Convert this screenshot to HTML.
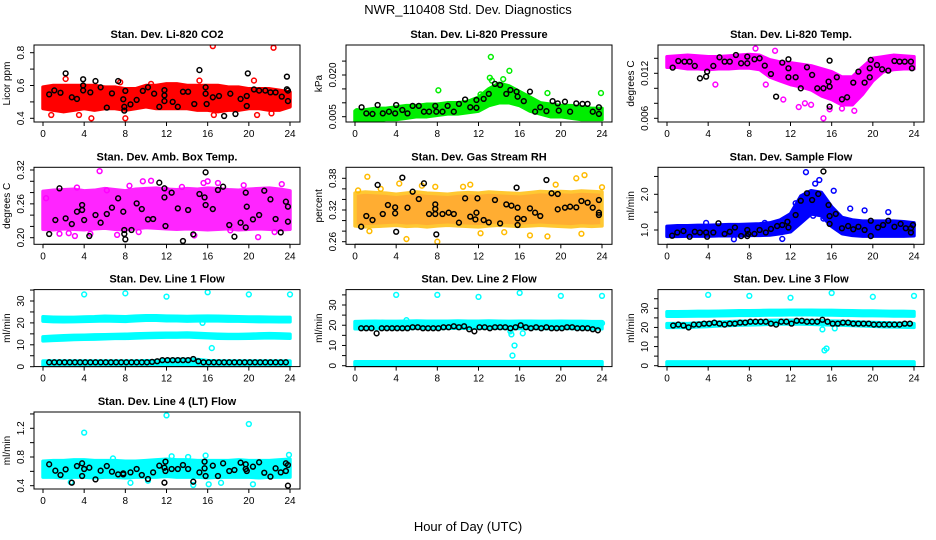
<!DOCTYPE html>
<html><head><meta charset="utf-8"><style>
body{margin:0;background:#fff}
svg{display:block}
text{font-family:"Liberation Sans",sans-serif}
</style></head><body>
<svg id="chart" width="936" height="540" viewBox="0 0 936 540">
<rect width="936" height="540" fill="#fff"/>
<text x="468" y="14" text-anchor="middle" font-size="13">NWR_110408  Std. Dev. Diagnostics</text>
<text x="468" y="531" text-anchor="middle" font-size="13">Hour of Day (UTC)</text>
</svg>
<script>
// ---------- shared x axis ----------
const xTicks = [0,4,8,12,16,20,24];

// ---------- CO2 ----------
const co2_lo=[0.46,0.45,0.44,0.45,0.46,0.45,0.46,0.46,0.45,0.46,0.47,0.46,0.46,0.46,0.46,0.45,0.45,0.44,0.45,0.45,0.46,0.46,0.45,0.45,0.47];
const co2_hi=[0.59,0.6,0.6,0.6,0.6,0.6,0.59,0.59,0.58,0.58,0.6,0.6,0.61,0.61,0.6,0.6,0.6,0.6,0.59,0.59,0.58,0.58,0.58,0.57,0.56];
const co2_ot=[16.5,22.4,0.8,3.5,4.7,8,20.8,2.2,15.2,16.6,22.2,7.5,10.5,20.5];
const co2_ov=[0.84,0.83,0.42,0.42,0.40,0.40,0.42,0.64,0.63,0.42,0.43,0.62,0.61,0.63];
const co2_bt=[0.6,1.1,1.7,2.2,2.8,3.3,3.9,3.9,3.9,4.6,5.1,5.6,6.2,6.7,7.3,7.8,7.9,7.9,8,8.5,9.1,9.7,10.2,10.8,11.3,11.8,11.8,11.8,12.6,13.1,13.6,14.1,14.7,15.2,15.8,15.8,15.9,16.5,17.1,17.6,18.2,18.7,19.2,19.8,19.8,19.9,20.5,21,21.6,22.1,22.6,23.2,23.7,23.7,23.8,23.8];
const co2_bv=[0.546,0.57,0.556,0.674,0.528,0.518,0.638,0.6,0.57,0.558,0.627,0.589,0.465,0.552,0.627,0.516,0.47,0.447,0.567,0.485,0.512,0.567,0.589,0.55,0.47,0.572,0.54,0.505,0.5,0.47,0.562,0.562,0.487,0.694,0.589,0.55,0.487,0.528,0.536,0.414,0.55,0.426,0.518,0.536,0.475,0.674,0.576,0.569,0.569,0.558,0.558,0.532,0.654,0.577,0.569,0.505];

// ---------- Pressure ----------
const prs_lo=[0.003,0.003,0.0035,0.004,0.004,0.0045,0.005,0.005,0.0055,0.006,0.006,0.0065,0.007,0.009,0.010,0.010,0.009,0.007,0.006,0.005,0.005,0.0045,0.004,0.004,0.004];
const prs_hi=[0.007,0.0075,0.008,0.008,0.0085,0.009,0.009,0.0095,0.0095,0.010,0.010,0.0105,0.012,0.015,0.017,0.016,0.014,0.012,0.010,0.0095,0.009,0.009,0.0085,0.008,0.008];
const prs_ot=[13.2,15.0,13.1,14.4,8.1,23.9,18.7,13.3,12.2,0.2];
const prs_ov=[0.0265,0.0215,0.019,0.0185,0.0145,0.0135,0.0135,0.018,0.013,0.007];
const prs_bt=[0.64,1.1,1.7,2.2,2.7,3.3,3.9,4,4.6,5.1,5.6,6.2,6.7,7.2,7.8,7.9,8.5,9,9.6,10.1,10.7,11.2,11.8,11.8,12.5,13,13.6,14.1,14.7,15.1,15.7,15.8,16.4,17,17.5,18,18.6,19.2,19.7,19.8,20.4,20.9,21.5,22.1,22.6,23.1,23.7,23.7];
const prs_bv=[0.0084,0.0062,0.006,0.0092,0.0062,0.0068,0.0062,0.0092,0.0074,0.0062,0.0089,0.0089,0.0068,0.0068,0.0089,0.0068,0.0068,0.0089,0.0068,0.0096,0.0112,0.0084,0.011,0.0082,0.0114,0.0132,0.0168,0.0164,0.0132,0.0146,0.014,0.0122,0.0106,0.014,0.0068,0.0084,0.007,0.0106,0.0098,0.0072,0.0104,0.0068,0.0098,0.0096,0.0096,0.0068,0.006,0.0084];

// ---------- Li-820 Temp ----------
const tmp_lo=[0.0128,0.0128,0.0126,0.0126,0.0125,0.0126,0.0126,0.0127,0.0127,0.0125,0.0115,0.011,0.0105,0.0102,0.0098,0.0090,0.0085,0.0078,0.0078,0.0092,0.011,0.0122,0.0125,0.0126,0.0126];
const tmp_hi=[0.0142,0.0143,0.0144,0.0143,0.0142,0.0142,0.0143,0.0144,0.0145,0.0144,0.0138,0.0135,0.0134,0.0132,0.0130,0.0126,0.0122,0.0115,0.0115,0.0128,0.0140,0.0142,0.0144,0.0143,0.0142];
const tmp_ot=[15.2,8.6,10.5,4.7,12.8,14,17,18.2,11.3,15.8,9.6,13.4];
const tmp_ov=[0.006,0.0153,0.0150,0.0105,0.0075,0.0078,0.0073,0.007,0.0085,0.0072,0.0105,0.0080];
const tmp_bt=[0.55,1.1,1.7,2.2,2.7,3.2,3.8,3.9,4.5,5.1,5.6,6.1,6.7,7.2,7.8,7.8,8.5,9,9.5,10.1,10.6,11.2,11.8,11.8,11.8,12.5,13,13.6,14.1,14.6,15.2,15.7,15.8,15.8,15.8,16.5,17,17.5,18.1,18.6,19.2,19.7,19.7,19.8,20.4,20.9,21.5,22.1,22.6,23.1,23.7,23.8];
const tmp_bv=[0.01276,0.01364,0.01356,0.01356,0.01298,0.01133,0.01156,0.01222,0.01298,0.01413,0.01356,0.01356,0.01444,0.01333,0.01333,0.01422,0.01387,0.014,0.01302,0.01191,0.00889,0.01342,0.01267,0.01387,0.01147,0.01147,0.01,0.0128,0.01178,0.01,0.01,0.01089,0.01022,0.01369,0.00756,0.01147,0.00853,0.0088,0.01076,0.01222,0.01076,0.01147,0.01267,0.01378,0.01311,0.01253,0.01236,0.01364,0.01356,0.01356,0.01356,0.01267];

// ---------- Amb Box Temp ----------
const amb_lo=[0.215,0.214,0.216,0.215,0.214,0.216,0.217,0.215,0.214,0.216,0.218,0.217,0.216,0.215,0.216,0.215,0.214,0.215,0.216,0.214,0.215,0.216,0.215,0.214,0.215];
const amb_hi=[0.282,0.284,0.285,0.286,0.283,0.284,0.287,0.285,0.283,0.286,0.287,0.288,0.286,0.285,0.287,0.286,0.288,0.287,0.285,0.284,0.286,0.287,0.288,0.286,0.283];
const amb_ot=[5.5,9.7,10.5,3.3,8.4,16,17,20.9,3.1,1.6,4.6,14.7,18.2,23.2,15.6,6.2,9.3,22.5,12,19.5,0.3,2.5,7.2,13.5];
const amb_ov=[0.318,0.30,0.301,0.289,0.292,0.30,0.297,0.201,0.203,0.207,0.207,0.204,0.213,0.295,0.297,0.284,0.21,0.21,0.285,0.293,0.27,0.208,0.205,0.29];
const amb_bt=[0.6,1.2,1.6,2.2,2.8,3.3,3.8,3.8,4,4.5,5.1,5.6,6.2,6.7,7.3,7.8,7.9,7.9,8,8.6,9.1,9.6,10.2,10.7,11.3,11.8,11.8,11.9,12.5,13.1,13.6,14.1,14.6,15.2,15.7,15.8,15.8,16.5,17,17.5,18.1,18.6,19.2,19.7,19.7,19.8,20.4,21,21.5,22.1,22.6,23.1,23.6,23.8,23.8];
const amb_bv=[0.2065,0.2313,0.2875,0.2343,0.2242,0.2461,0.2491,0.2579,0.2313,0.203,0.2402,0.2266,0.242,0.2532,0.2698,0.2461,0.2136,0.2065,0.1971,0.2136,0.2609,0.2508,0.2325,0.2331,0.2975,0.2875,0.2715,0.2207,0.2798,0.252,0.1941,0.2491,0.2059,0.2774,0.2715,0.2579,0.3159,0.2508,0.2845,0.2904,0.2225,0.2018,0.2266,0.2798,0.2183,0.255,0.2325,0.2402,0.2833,0.268,0.2331,0.2095,0.2638,0.255,0.2284];

// ---------- Gas Stream RH ----------
const rh_lo=[0.29,0.288,0.289,0.29,0.291,0.289,0.29,0.288,0.29,0.291,0.29,0.289,0.288,0.29,0.291,0.29,0.289,0.29,0.291,0.29,0.289,0.288,0.29,0.289,0.29];
const rh_hi=[0.352,0.354,0.353,0.352,0.35,0.352,0.354,0.352,0.351,0.35,0.352,0.353,0.352,0.354,0.353,0.352,0.351,0.353,0.355,0.354,0.355,0.354,0.356,0.355,0.354];
const rh_ot=[1.2,4.3,11.2,7.8,19.5,21.5,22.3,24,0.3,5,8,18.7,22,1.4,17,10.5,6.5,14.5,2.5,12.2];
const rh_ov=[0.383,0.37,0.368,0.364,0.368,0.38,0.386,0.363,0.357,0.265,0.26,0.27,0.275,0.28,0.272,0.364,0.366,0.278,0.36,0.276];
const rh_bt=[0.6,1.1,1.7,2.2,2.7,3.2,3.9,3.9,4,4.6,5.1,5.6,6.2,6.7,7.2,7.8,7.8,7.8,7.9,8.5,9.1,9.6,10.1,10.7,11.2,11.7,11.8,11.9,12.5,13,13.6,14.1,14.7,15.2,15.7,15.8,15.8,15.8,16.4,17,17.5,18,18.6,19.1,19.7,19.7,20.4,20.9,21.5,22,22.6,23.1,23.7,23.7,23.7];
const rh_bv=[0.2884,0.3086,0.301,0.3674,0.3124,0.3295,0.325,0.3137,0.2789,0.3813,0.3244,0.3547,0.3408,0.3705,0.3124,0.3307,0.3219,0.3124,0.2739,0.3124,0.3149,0.3124,0.296,0.3421,0.3074,0.3023,0.3149,0.3421,0.301,0.2966,0.3389,0.2947,0.3307,0.3282,0.3623,0.3244,0.3042,0.2916,0.3029,0.3231,0.3149,0.3086,0.3768,0.3516,0.3503,0.3213,0.3244,0.3263,0.325,0.337,0.3339,0.3244,0.3389,0.3149,0.3105];

// ---------- Sample Flow ----------
const sf_lo=[0.82,0.82,0.83,0.83,0.83,0.84,0.84,0.84,0.85,0.85,0.86,0.9,0.95,1.2,1.45,1.4,1.1,0.9,0.85,0.83,0.83,0.83,0.83,0.83,0.84];
const sf_hi=[1.1,1.12,1.12,1.13,1.13,1.14,1.15,1.15,1.16,1.17,1.2,1.28,1.45,1.95,2.1,2.05,1.65,1.35,1.28,1.25,1.25,1.25,1.25,1.23,1.2];
const sf_ot=[13.5,14.4,14.8,16.2,17.8,19.2,21.5,13.1,14.2,15.2,11.2,6.5,12.5,3.8,9.5];
const sf_ov=[2.62,2.3,2.4,2.1,1.6,1.55,1.5,1.55,1.4,1.32,0.75,0.74,1.75,1.2,1.2];
const sf_bt=[0.5,1,1.6,2.2,2.7,3.2,3.8,3.9,4.5,5,5.6,6.1,6.6,7.2,7.8,7.8,7.9,8.5,9,9.6,10.1,10.7,11.2,11.7,11.8,12.5,13,13.6,14.1,14.7,15.2,15.7,15.8,15.8,16.4,17,17.6,18.1,18.6,19.2,19.8,19.8,20.5,21,21.5,22.1,22.7,23.2,23.7,23.7,23.9];
const sf_bv=[0.84,0.93,0.97,0.81,0.95,0.93,0.93,0.81,0.93,1.19,0.89,0.95,1.07,0.83,0.83,1.0,0.89,0.89,1.0,0.93,1.03,1.11,1.14,1.23,1.07,1.42,1.82,2.03,1.84,2.01,2.64,1.7,1.39,1.17,1.45,1.05,1.11,1.02,1.09,1.0,1.26,0.83,1.07,1.14,1.26,1.09,1.17,1.05,1.05,0.93,1.14];

// ---------- black time grid for line flows ----------
const lf_bt=[0.6,1.1,1.6,2.1,2.6,3.1,3.6,4.1,4.6,5.1,5.6,6.1,6.6,7.1,7.6,8.1,8.6,9.1,9.6,10.1,10.6,11.1,11.6,12.1,12.6,13.1,13.6,14.1,14.6,15.1,15.6,16.1,16.6,17.1,17.6,18.1,18.6,19.1,19.6,20.1,20.6,21.1,21.6,22.1,22.6,23.1,23.6];

// ---------- Line 1 ----------
const l1_lo1=[20.8,20.6,20.5,20.6,20.7,20.8,20.9,20.8,20.7,21,21.2,21.2,21,21,20.8,20.9,21,20.9,20.8,20.8,20.7,20.6,20.6,20.5,20.5];
const l1_hi1=[22.8,22.6,22.5,22.5,22.7,22.8,23,22.9,22.8,23.1,23.3,23.3,23.1,23,22.9,23,23.1,23,22.9,22.8,22.7,22.7,22.6,22.5,22.5];
const l1_lo2=[11.8,12,12.2,12.4,12.5,12.6,12.8,12.9,12.9,13.1,13.3,13.4,13.5,13.5,13.6,13.4,13.2,13,12.9,12.9,13,13.1,13.2,13.1,13];
const l1_hi2=[13.6,13.9,14.1,14.3,14.4,14.5,14.6,14.7,14.8,15,15.1,15.2,15.3,15.3,15.4,15.2,15,14.8,14.7,14.7,14.8,15,15.1,15,14.8];
const l1_lo3=[0.6,0.6,0.6,0.6,0.6,0.6,0.6,0.6,0.6,0.6,0.6,0.6,0.8,0.9,0.9,0.8,0.6,0.6,0.6,0.6,0.6,0.6,0.6,0.6,0.6];
const l1_hi3=[2.6,2.6,2.6,2.6,2.6,2.6,2.6,2.6,2.6,2.6,2.7,2.8,3.2,3.4,3.4,3.3,2.8,2.6,2.6,2.6,2.6,2.6,2.6,2.6,2.6];
const l1_ot=[4,8,12,16,20,24,15.5,16.4];
const l1_ov=[33,33.5,32,34,33,33,20,8.5];
const l1_bv=[2,2,2,2,2,2,2,2,2,2,2,2,2,2,2,2,2,2,2,2,2.2,2.5,3,3,3,3,3,3,3.5,2.5,2,2,2,2,2,2,2,2,2,2,2,2,2,2,2,2,2];

// ---------- Line 2 ----------
const l2_lo1=[18.3,18.3,18.4,18.4,18.3,18.4,18.5,18.5,18.4,18.5,18.6,18.5,18.5,18.6,18.5,18.4,18.4,18.5,18.4,18.4,18.5,18.4,18.3,18.3,18.3];
const l2_hi1=[21.8,21.9,22,21.9,21.9,22,22.1,22,22,22,22.1,22,22,22.1,22,21.9,22,22,21.9,21.9,22,21.9,21.9,21.8,21.8];
const l2_lo2=[0,0,0,0,0,0,0,0,0,0,0,0,0,0,0,0,0,0,0,0,0,0,0,0,0];
const l2_hi2=[2,2,2,2,2,2,2,2,2,2,2,2,2,2,2,2,2,2,2,2,2,2,2,2,2];
const l2_ot=[4,8,12,16,20,24,15.5,15.3,15.2,15.1,16.3,5,24];
const l2_ov=[35,35,34,36,34.5,34.5,10,5,15.5,17,16,22.5,21];
const l2_bv=[18.5,18.5,18.5,16,18.5,18.5,18.5,18.5,18.5,18.5,19,19,18.5,18.5,18.5,18.5,19,19,19.5,19,19.5,18,17,19,19,18.5,19,19,19,18.5,19,20,19,18.5,19,18.5,19,18.5,18.5,18.5,19,19,18.5,18.5,18.5,18,17.5];

// ---------- Line 3 ----------
const l3_lo1=[25.8,25.8,25.9,26,26,26.1,26.2,26.3,26.3,26.4,26.5,26.5,26.6,26.6,26.6,26.5,26.5,26.4,26.3,26.2,26.2,26.1,26,26,25.9];
const l3_hi1=[28.2,28.2,28.3,28.4,28.4,28.5,28.6,28.7,28.7,28.8,28.9,28.9,29,29,29,28.9,28.9,28.8,28.7,28.6,28.6,28.5,28.4,28.4,28.3];
const l3_lo2=[20,20,20,20.3,20.5,20.8,21,21.2,21.3,21.5,21.7,21.8,21.8,21.8,21.7,21.5,21.3,21.2,21,20.8,20.6,20.4,20.3,20.2,20];
const l3_hi2=[22,22,22,22.3,22.5,22.8,23,23.2,23.3,23.5,23.7,23.8,23.8,23.8,23.7,23.5,23.3,23.2,23,22.8,22.6,22.4,22.3,22.2,22];
const l3_lo3=[0,0,0,0,0,0,0,0,0,0,0,0,0,0,0,0,0,0,0,0,0,0,0,0,0];
const l3_hi3=[2,2,2,2,2,2,2,2,2,2,2,2,2,2,2,2,2,2,2,2,2,2,2,2,2];
const l3_ot=[4,8,12,16,20,24,15.3,15.5,15.1,16.3];
const l3_ov=[37,36.5,35.5,38,36,36.5,8,9,19,19.5];
const l3_bv=[21,21.5,21,20,21.5,21.5,22,22,22.5,22,21.5,22,22,22.5,22.5,23,23,23,23,22,21.5,23,23,22,23.5,23.5,23,23,23,24,23,22,22,22.5,22.5,22,22,22,22,21.5,21.5,21.5,21.5,21.5,21.5,22,22];

// ---------- Line 4 ----------
const l4_lo=[0.52,0.52,0.51,0.52,0.52,0.51,0.52,0.52,0.51,0.52,0.52,0.52,0.53,0.52,0.52,0.52,0.51,0.52,0.52,0.52,0.52,0.51,0.52,0.52,0.52];
const l4_hi=[0.74,0.75,0.75,0.76,0.76,0.75,0.75,0.75,0.74,0.74,0.75,0.76,0.77,0.76,0.76,0.75,0.75,0.75,0.75,0.76,0.75,0.75,0.75,0.76,0.77];
const l4_ot=[4,12,20,14.6,16.1,20.4,23.9,15.8,12.5,14.1,8.5,2.7,17.3,6.8,10.2];
const l4_ov=[1.14,1.38,1.26,0.41,0.42,0.42,0.83,0.82,0.81,0.8,0.44,0.45,0.44,0.78,0.47];
const l4_bt=[0.6,1.2,1.7,2.2,2.8,3.3,3.8,3.8,4,4.5,5.1,5.6,6.2,6.7,7.3,7.8,7.8,8.5,9.1,9.6,10.2,10.7,11.3,11.8,11.8,11.9,11.9,12.5,13.1,13.6,14.1,14.6,15.2,15.7,15.7,15.8,16.5,17,17.5,18.1,18.6,19.2,19.7,19.7,19.8,20.4,21,21.5,22.1,22.6,23.1,23.6,23.6,23.8,23.8];
const l4_bv=[0.698,0.609,0.549,0.628,0.442,0.674,0.712,0.535,0.633,0.651,0.488,0.609,0.674,0.595,0.558,0.572,0.558,0.586,0.633,0.549,0.493,0.586,0.679,0.442,0.651,0.735,0.605,0.633,0.633,0.688,0.633,0.456,0.586,0.735,0.642,0.535,0.679,0.535,0.712,0.605,0.619,0.721,0.698,0.633,0.605,0.665,0.726,0.581,0.526,0.642,0.586,0.712,0.605,0.688,0.40];

const NS='http://www.w3.org/2000/svg';
const svg=document.getElementById('chart');
function mk(tag,attrs,parent){const e=document.createElementNS(NS,tag);for(const k in attrs)e.setAttribute(k,attrs[k]);(parent||svg).appendChild(e);return e;}

const colX=[34,346,658], rowY=[45,167.3,289.6,412], BW=266, BH=77;
const panels=[
 {key:'co2',title:'Stan. Dev. Li-820 CO2',yl:'Licor ppm',c:0,r:0,ref:[0.4,118.3,0.8,52.7],ticks:[0.4,0.5,0.6,0.7,0.8],labs:[0.4,0.6,0.8],dec:1,col:'#ff0000',bands:[[co2_lo,co2_hi]],ot:co2_ot,ov:co2_ov,bt:co2_bt,bv:co2_bv},
 {key:'pressure',title:'Stan. Dev. Li-820 Pressure',yl:'kPa',c:1,r:0,ref:[0.005,116.7,0.02,75],ticks:[0.005,0.01,0.015,0.02,0.025],labs:[0.005,0.02],dec:3,col:'#00ee00',bands:[[prs_lo,prs_hi]],ot:prs_ot,ov:prs_ov,bt:prs_bt,bv:prs_bv},
 {key:'li820-temp',title:'Stan. Dev. Li-820 Temp.',yl:'degrees C',c:2,r:0,ref:[0.006,118.3,0.012,73.3],ticks:[0.006,0.008,0.01,0.012,0.014],labs:[0.006,0.012],dec:3,col:'#ff00ff',bands:[[tmp_lo,tmp_hi]],ot:tmp_ot,ov:tmp_ov,bt:tmp_bt,bv:tmp_bv},
 {key:'amb-box-temp',title:'Stan. Dev. Amb. Box Temp.',yl:'degrees C',c:0,r:1,ref:[0.2,237.7,0.32,170],ticks:[0.2,0.22,0.24,0.26,0.28,0.3,0.32],labs:[0.2,0.26,0.32],dec:2,col:'#ff00ff',op:0.85,bands:[[amb_lo,amb_hi]],ot:amb_ot,ov:amb_ov,bt:amb_bt,bv:amb_bv},
 {key:'gas-rh',title:'Stan. Dev. Gas Stream RH',yl:'percent',c:1,r:1,ref:[0.26,241.7,0.38,178.3],ticks:[0.26,0.28,0.3,0.32,0.34,0.36,0.38],labs:[0.26,0.32,0.38],dec:2,col:'#ff9900',pcol:'#ffbb00',op:0.8,bands:[[rh_lo,rh_hi]],ot:rh_ot,ov:rh_ov,bt:rh_bt,bv:rh_bv},
 {key:'sample-flow',title:'Stan. Dev. Sample Flow',yl:'ml/min',c:2,r:1,ref:[1.0,230,2.0,194.3],ticks:[1,1.5,2,2.5],labs:[1,2],dec:1,col:'#0000ff',bands:[[sf_lo,sf_hi]],ot:sf_ot,ov:sf_ov,bt:sf_bt,bv:sf_bv},
 {key:'line1-flow',title:'Stan. Dev. Line 1 Flow',yl:'ml/min',c:0,r:2,ref:[0,366.7,30,301],ticks:[0,5,10,15,20,25,30,35],labs:[0,10,20,30],dec:0,col:'#00ffff',bands:[[l1_lo1,l1_hi1],[l1_lo2,l1_hi2],[l1_lo3,l1_hi3]],ot:l1_ot,ov:l1_ov,bt:lf_bt,bv:l1_bv},
 {key:'line2-flow',title:'Stan. Dev. Line 2 Flow',yl:'ml/min',c:1,r:2,ref:[0,365.7,30,305],ticks:[0,5,10,15,20,25,30,35],labs:[0,10,20,30],dec:0,col:'#00ffff',bands:[[l2_lo1,l2_hi1],[l2_lo2,l2_hi2]],ot:l2_ot,ov:l2_ov,bt:lf_bt,bv:l2_bv},
 {key:'line3-flow',title:'Stan. Dev. Line 3 Flow',yl:'ml/min',c:2,r:2,ref:[0,365.7,30,308.3],ticks:[0,5,10,15,20,25,30,35],labs:[0,10,20,30],dec:0,col:'#00ffff',bands:[[l3_lo1,l3_hi1],[l3_lo2,l3_hi2],[l3_lo3,l3_hi3]],ot:l3_ot,ov:l3_ov,bt:lf_bt,bv:l3_bv},
 {key:'line4-flow',title:'Stan. Dev. Line 4 (LT) Flow',yl:'ml/min',c:0,r:3,ref:[0.4,485.7,1.2,428.3],ticks:[0.4,0.6,0.8,1.0,1.2,1.4],labs:[0.4,0.8,1.2],dec:1,col:'#00ffff',bands:[[l4_lo,l4_hi]],ot:l4_ot,ov:l4_ov,bt:l4_bt,bv:l4_bv}
];

panels.forEach(p=>{
  const x0=colX[p.c], y0=rowY[p.r], x1=x0+BW, y1=y0+BH;
  const g=mk('g',{});
  
  
  const sx=t=>x0+9+t*(BW-19)/24;
  const [va,pa,vb,pb]=p.ref;
  const sy=v=>pa+(v-va)*(pb-pa)/(vb-va);
  const clipId='clip-'+p.key;
  const cp=mk('clipPath',{id:clipId},g);
  mk('rect',{x:x0,y:y0,width:BW,height:BH},cp);
  const plot=mk('g',{'clip-path':'url(#'+clipId+')'},g);
  p.bands.forEach((b,bi)=>{
    const lo=b[0],hi=b[1];
    let d='';
    hi.forEach((v,i)=>{d+=(i?'L':'M')+sx(i).toFixed(1)+','+sy(v).toFixed(1);});
    for(let i=lo.length-1;i>=0;i--)d+='L'+sx(i).toFixed(1)+','+sy(lo[i]).toFixed(1);
    const band=mk('path',{d:d+'Z',fill:p.col,stroke:p.pcol||p.col,'stroke-width':3.5,'stroke-linejoin':'round','stroke-linecap':'round',opacity:p.op||1},plot);
    
    
  });
  p.ot.forEach((t,i)=>{
    const c=mk('circle',{cx:sx(t),cy:sy(p.ov[i]),r:2.4,fill:'none',stroke:p.pcol||p.col,'stroke-width':1.5},plot);
    
    
  });
  p.bt.forEach((t,i)=>{
    const c=mk('circle',{cx:sx(t),cy:sy(p.bv[i]),r:2.4,fill:'none',stroke:'#000','stroke-width':1.5},plot);
    
    
  });
  const box=mk('rect',{x:x0,y:y0,width:BW,height:BH,fill:'none',stroke:'#000','stroke-width':1},g);
  
  
  const tt=mk('text',{x:x0+BW/2,y:y0-7,'text-anchor':'middle','font-size':11,'font-weight':'bold'},g);
  tt.textContent=p.title;
  
  
  mk('line',{x1:sx(0),x2:sx(24),y1:y1,y2:y1,stroke:'#000'},g);
  xTicks.forEach(t=>{
    mk('line',{x1:sx(t),x2:sx(t),y1:y1,y2:y1+4,stroke:'#000'},g);
    const l=mk('text',{x:sx(t),y:y1+15,'text-anchor':'middle','font-size':10},g);
    l.textContent=t;
    
    
  });
  const ty=p.ticks.map(sy);
  mk('line',{x1:x0,x2:x0,y1:Math.min(...ty),y2:Math.max(...ty),stroke:'#000'},g);
  p.ticks.forEach((v,i)=>mk('line',{x1:x0-4,x2:x0,y1:ty[i],y2:ty[i],stroke:'#000'},g));
  p.labs.forEach(v=>{
    const yy=sy(v);
    const l=mk('text',{x:x0-10,y:yy,'text-anchor':'middle','font-size':10,transform:'rotate(-90 '+(x0-10)+' '+yy+')'},g);
    l.textContent=v.toFixed(p.dec);
    
    
  });
  const yl=mk('text',{x:x0-24,y:y0+BH/2,'text-anchor':'middle','font-size':10,transform:'rotate(-90 '+(x0-24)+' '+(y0+BH/2)+')'},g);
  yl.textContent=p.yl;
  
  
});
</script>
</body></html>
